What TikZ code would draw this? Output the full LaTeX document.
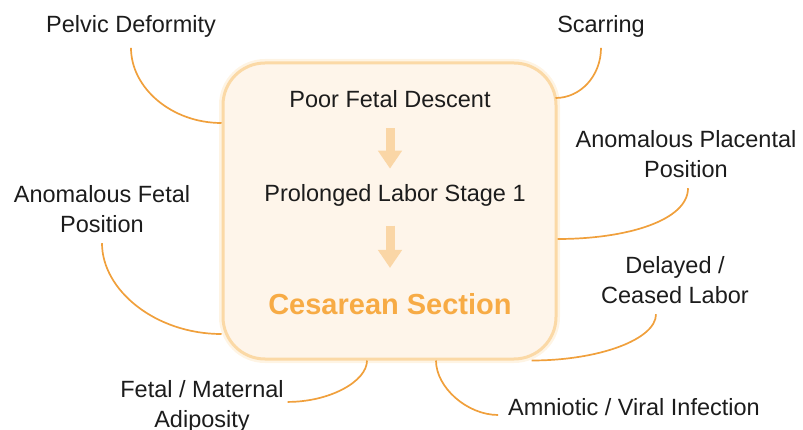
\documentclass[tikz,border=0pt]{standalone}
\usepackage{fontspec}
\setmainfont{Liberation Sans}
\usetikzlibrary{arrows.meta}
\definecolor{boxfill}{RGB}{254,245,234}
\definecolor{boxline}{RGB}{251,217,166}
\definecolor{flowfill}{RGB}{250,214,166}
\definecolor{titleorange}{RGB}{247,171,69}
\definecolor{linkorange}{RGB}{240,160,60}
\definecolor{textgray}{RGB}{28,28,28}
\tikzset{
	factor/.style   = {align=center, font=\fontsize{23.5}{30}\selectfont, text=textgray, inner sep=0pt, outer sep=10pt},
	flowtext/.style = {font=\fontsize{23.5}{30}\selectfont, text=textgray, inner sep=0pt, outer sep=0pt},
	flowarrow/.style= {draw=flowfill, line width=9pt, -{Triangle[width=23pt,length=18pt]}},
	link/.style     = {draw=linkorange, line width=1.7pt}
}
\begin{document}
\begin{tikzpicture}[x=1pt,y=-1pt]
	\useasboundingbox (0,0) rectangle (803,430);
	% central box
	\node (box) at (389.5,211) [draw=boxline, line width=3pt, fill=boxfill, rounded corners=42pt,
		minimum width=333pt, minimum height=296pt, preaction={draw=boxline!30, line width=8pt}] {};
	\node (descent)  at (390,108)   [flowtext, anchor=base] {Poor Fetal Descent};
	\node (labor)    at (395,201.7) [flowtext, anchor=base] {Prolonged Labor Stage 1};
	\node (cesarean) at (390,315)   [flowtext, anchor=base, font=\bfseries\fontsize{29}{34}\selectfont, text=titleorange] {Cesarean Section};
	\draw[flowarrow, shorten <=20pt, shorten >=16pt] (descent.south) -- (descent.south |- labor.north);
	\draw[flowarrow, shorten <=19pt, shorten >=26pt] (labor.south -| descent.south) -- (descent.south |- cesarean.north);
	% factors (base = last line)
	\node (pelvic)    at (131,33)  [factor, anchor=base] {Pelvic Deformity};
	\node (scarring)  at (601,33)  [factor, anchor=base] {Scarring};
	\node (placental) at (686,178) [factor, anchor=base] {Anomalous Placental\\Position};
	\node (fetalpos)  at (102,233) [factor, anchor=base] {Anomalous Fetal\\Position};
	\node (delayed)   at (675,304) [factor, anchor=base] {Delayed /\\Ceased Labor};
	\node (adiposity) at (202,427) [factor, anchor=base, outer sep=4pt] {Fetal / Maternal\\Adiposity};
	\node (amniotic)  at (634,415) [factor, anchor=base] {Amniotic / Viral Infection};
	% connectors
	\draw[link] (pelvic.south) .. controls +(0,40) and +(-50,0) .. ([yshift=88pt]box.west);
	\draw[link] (scarring.south) .. controls +(0,28) and +(25,0) .. ([xshift=-2pt,yshift=113pt]box.east);
	\draw[link] ([xshift=2pt]placental.south) .. controls +(0,32) and +(70,0) .. ([yshift=-28pt]box.east);
	\draw[link] (fetalpos.south) .. controls +(0,47) and +(-66,0) .. ([yshift=-123pt]box.west);
	\draw[link] ([xshift=-19pt]delayed.south) .. controls +(0,25) and +(68,0) .. ([xshift=142pt]box.south);
	\draw[link] ([yshift=4pt]adiposity.east) .. controls +(42,0) and +(0,21) .. ([xshift=-22.5pt]box.south);
	\draw[link] (amniotic.base west) .. controls +(-31,0) and +(0,27) .. ([xshift=46.5pt]box.south);
\end{tikzpicture}
\end{document}
